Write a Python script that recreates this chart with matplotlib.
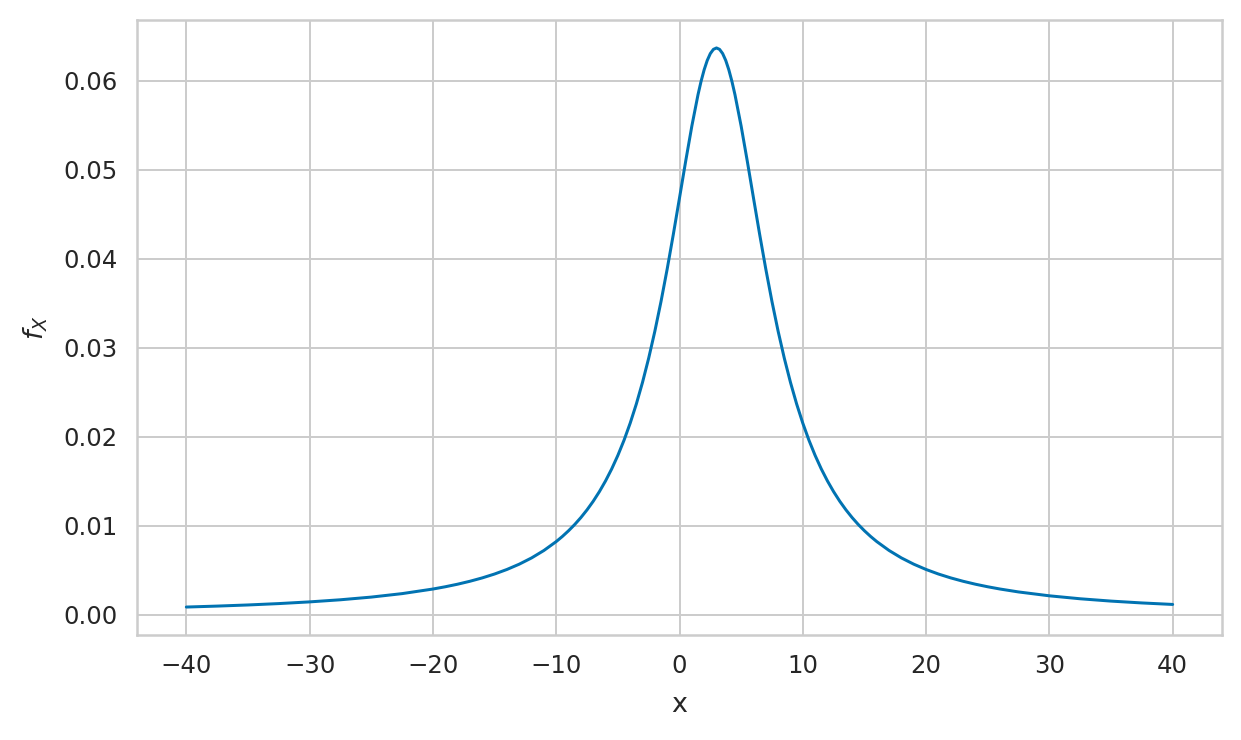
import matplotlib
matplotlib.use("Agg")
import matplotlib.pyplot as plt
import seaborn as sns
import numpy as np

# points (denser near the peak)
x_vals = [-40, -37.5, -35, -32.5, -30, -27.5, -25, -22.5, -20,
          -19, -18, -17, -16, -15, -14, -13, -12, -11, -10,
          -9.5, -9, -8.5, -8, -7.5, -7, -6.5, -6, -5.5, -5, -4.5, -4,
          -3.5, -3, -2.5, -2, -1.5, -1, -0.5, 0, 0.5, 1, 1.5, 1.75, 2,
          2.25, 2.5, 2.75, 3, 3.25, 3.5, 3.75, 4, 4.25, 4.5, 5, 5.5, 6,
          6.5, 7, 7.5, 8, 8.5, 9, 9.5, 10, 10.5, 11, 11.5, 12, 12.5, 13,
          13.5, 14, 14.5, 15, 15.5, 16, 17, 18, 19, 20, 21, 22, 23, 24,
          25, 26, 27.5, 30, 32.5, 35, 37.5, 40]
fx_vals = [0.000849, 0.000956, 0.001083, 0.001238, 0.001429, 0.001666,
           0.001967, 0.002357, 0.002873,
           0.003127, 0.003415, 0.003745, 0.004123, 0.004560, 0.005069,
           0.005664, 0.006366, 0.007202, 0.008204,
           0.008781, 0.009418, 0.010121, 0.010901, 0.011768, 0.012732,
           0.013810, 0.015015, 0.016365, 0.017883, 0.019588, 0.021507,
           0.023666, 0.026091, 0.028806, 0.031831, 0.035172, 0.038818,
           0.042726, 0.046810, 0.050930, 0.054881, 0.058405, 0.059917,
           0.061213, 0.062261, 0.063032, 0.063504, 0.063662, 0.063504,
           0.063032, 0.062261, 0.061213, 0.059917, 0.058405, 0.054881,
           0.050930, 0.046810, 0.042726, 0.038818, 0.035172, 0.031831,
           0.028806, 0.026091, 0.023666, 0.021507, 0.019588, 0.017883,
           0.016365, 0.015015, 0.013810, 0.012732, 0.011768, 0.010901,
           0.010121, 0.009418, 0.008781, 0.008204, 0.007202, 0.006366,
           0.005664, 0.005069, 0.004560, 0.004123, 0.003745, 0.003415,
           0.003127, 0.002873, 0.002545, 0.002111, 0.001778, 0.001517,
           0.001310, 0.001142]

sns.set_theme(style="whitegrid", palette="colorblind")

fig, ax = plt.subplots(figsize=(1241 / 144, 740 / 144), dpi=144)
ax.plot(x_vals, fx_vals)
ax.set_xlabel("x", fontsize=13.5, labelpad=7)
ax.set_ylabel("$f_X$", fontsize=13.5, labelpad=7)
ax.set_xticks(np.arange(-40, 41, 10))
ax.set_yticks(np.arange(0, 0.061, 0.01))
ax.tick_params(labelsize=12.2)

fig.subplots_adjust(left=137 / 1241, right=1222 / 1241,
                    top=1 - 20 / 740, bottom=1 - 635 / 740)
fig.savefig("out.png", dpi=144)
